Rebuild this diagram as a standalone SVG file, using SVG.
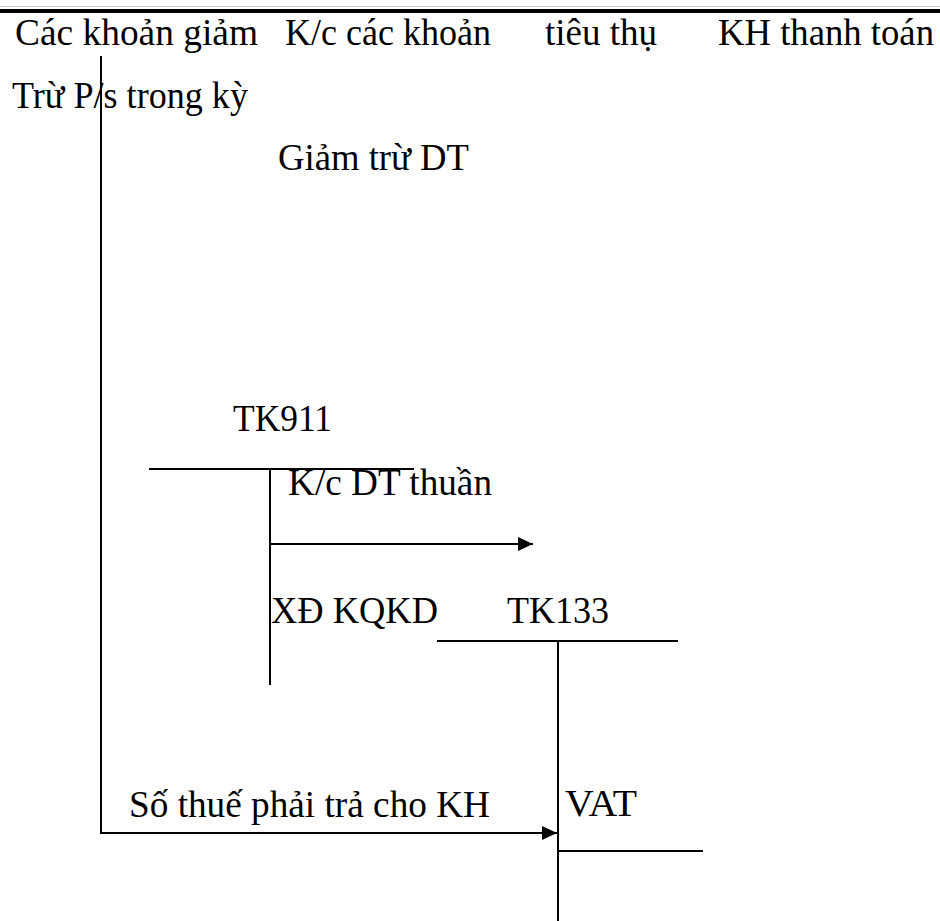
<svg xmlns="http://www.w3.org/2000/svg" width="940" height="921" viewBox="0 0 940 921">
<style>
text{font-family:"Liberation Serif","Times New Roman",serif;font-size:37px;fill:#000}
.ln{stroke:#000;stroke-width:2;fill:none}
</style>
<defs>
<marker id="ah" markerWidth="16" markerHeight="14" refX="15" refY="7" orient="auto" markerUnits="userSpaceOnUse">
<path d="M0,0 L15,7 L0,14 Z" fill="#000"/>
</marker>
</defs>
<rect width="940" height="921" fill="#fff"/>
<line x1="0" y1="6.5" x2="940" y2="6.5" stroke="#c8c8c8" stroke-width="1"/>
<rect x="0" y="9" width="940" height="4" fill="#000"/>
<g id="header">
<text x="15" y="45" textLength="243" lengthAdjust="spacingAndGlyphs">Các khoản giảm</text>
<text x="285" y="45" textLength="206" lengthAdjust="spacingAndGlyphs">K/c các khoản</text>
<text x="545" y="45" textLength="112" lengthAdjust="spacingAndGlyphs">tiêu thụ</text>
<text x="718" y="45" textLength="216" lengthAdjust="spacingAndGlyphs">KH thanh toán</text>
<text x="12" y="108" textLength="236" lengthAdjust="spacingAndGlyphs">Trừ P/s trong kỳ</text>
<text x="278" y="170" textLength="191" lengthAdjust="spacingAndGlyphs">Giảm trừ DT</text>
</g>
<g id="tk911">
<text x="233" y="431" textLength="99" lengthAdjust="spacingAndGlyphs">TK911</text>
<line class="ln" x1="149" y1="469" x2="414" y2="469"/>
<line class="ln" x1="270" y1="469" x2="270" y2="685"/>
<text x="288" y="495" textLength="204" lengthAdjust="spacingAndGlyphs">K/c DT thuần</text>
<text x="271" y="623" textLength="167" lengthAdjust="spacingAndGlyphs">XĐ KQKD</text>
</g>
<g id="tk133">
<text x="507" y="623" textLength="102" lengthAdjust="spacingAndGlyphs">TK133</text>
<line class="ln" x1="437" y1="641" x2="678" y2="641"/>
<line class="ln" x1="558" y1="641" x2="558" y2="921"/>
<text x="565" y="816" textLength="72" lengthAdjust="spacingAndGlyphs">VAT</text>
<line class="ln" x1="558" y1="851" x2="703" y2="851"/>
</g>
<g id="connectors">
<line class="ln" x1="270" y1="544" x2="533" y2="544" marker-end="url(#ah)"/>
<polyline class="ln" points="101,56 101,833 557,833" marker-end="url(#ah)"/>
<text x="129" y="817" textLength="361" lengthAdjust="spacingAndGlyphs">Số thuế phải trả cho KH</text>
</g>
</svg>
